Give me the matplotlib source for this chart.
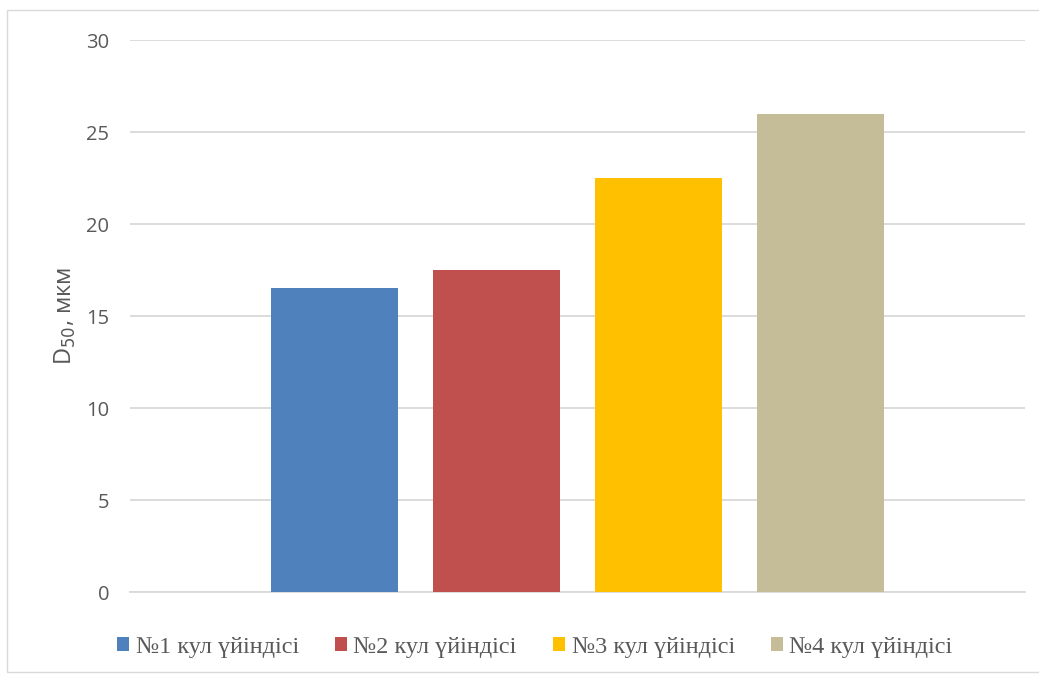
import matplotlib
matplotlib.use("Agg")
import matplotlib.pyplot as plt
from matplotlib.patches import Rectangle
import numpy as np

# Data
series_labels = ["№1 кул үйіндісі", "№2 кул үйіндісі", "№3 кул үйіндісі", "№4 кул үйіндісі"]
d50_values = [16.5, 17.5, 22.5, 26.0]
colors = ["#4f81bd", "#c0504d", "#ffc000", "#c4bd97"]
y_ticks = [0, 5, 10, 15, 20, 25, 30]

W, H = 1039, 674
fig = plt.figure(figsize=(W / 100, H / 100), dpi=100)
ax = fig.add_axes([130 / W, 1 - 592 / H, 895 / W, 552 / H])

# Outer chart-area border
fig.patches.append(Rectangle((7 / W, 1 - 672 / H), 1.1, 662 / H, transform=fig.transFigure,
                             fill=False, edgecolor="#d9d9d9", linewidth=1.0))

step = 0.181
width = 0.142
n = len(d50_values)
for i, (lab, val, col) in enumerate(zip(series_labels, d50_values, colors)):
    ax.bar((i - (n - 1) / 2) * step, val, width=width, color=col, label=lab, zorder=3)

ax.set_xlim(-0.5, 0.5)
ax.set_ylim(0, 30)
ax.set_yticks(y_ticks)
ax.set_xticks([])
ax.yaxis.grid(True, color="#d9d9d9", linewidth=1.3, zorder=0)
for s in ["top", "right", "left"]:
    ax.spines[s].set_visible(False)
ax.spines["bottom"].set_color("#d9d9d9")
ax.spines["bottom"].set_linewidth(1.3)
ax.tick_params(axis="y", length=0, pad=15, labelsize=14.5, labelcolor="#595959")
for t in ax.get_yticklabels():
    t.set_family("Open Sans")

ax.set_ylabel("D$_{50}$, мкм", fontsize=17, color="#595959", family="Open Sans")
ax.yaxis.set_label_coords(-52 / 895, 0.5)

leg = fig.legend(loc="center", bbox_to_anchor=(535 / W, 1 - 647 / H), ncol=4, frameon=False,
                 prop={"family": "Liberation Serif", "size": 17.5}, handlelength=0.5, handleheight=0.5,
                 handletextpad=0.25, columnspacing=1.5)
for t in leg.get_texts():
    t.set_color("#595959")

fig.savefig("out.png", dpi=100)
